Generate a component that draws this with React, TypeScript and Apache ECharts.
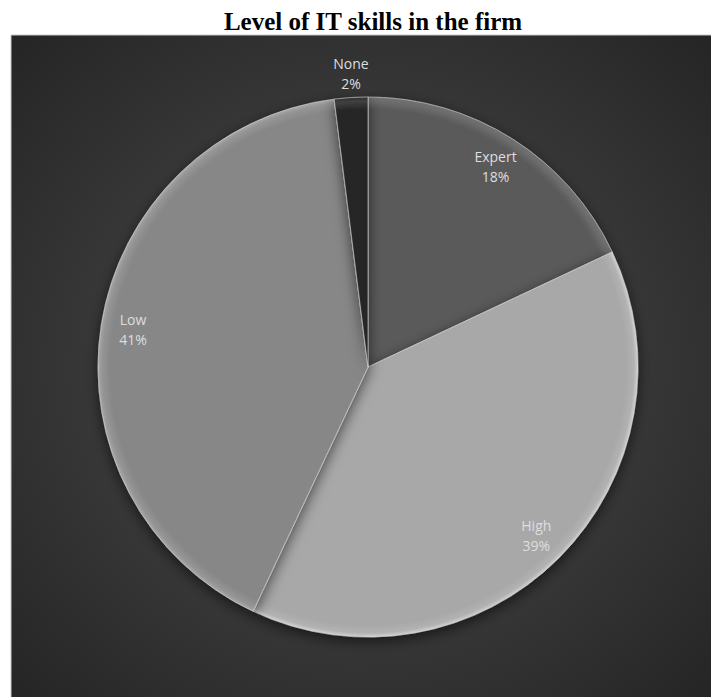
import React, { useEffect, useRef } from "react";
import * as echarts from "echarts";

const titleText = "Level of IT skills in the firm";
const categories = ["Expert", "High", "Low", "None"];
const values = [18, 39, 41, 2];
const colors = ["#5a5a5a", "#a8a8a8", "#878787", "#272727"];

function rim(base: string) {
  return new echarts.graphic.RadialGradient(368, 367, 270, [
    { offset: 0, color: base },
    { offset: 0.955, color: base },
    { offset: 0.985, color: echarts.color.lift(base, 0.12) },
    { offset: 1, color: echarts.color.lift(base, -0.25) },
  ], true);
}

export default function App() {
  const ref = useRef<HTMLDivElement>(null);
  useEffect(() => {
    if (!ref.current) return;
    const chart = echarts.init(ref.current, null, { renderer: "svg" });
    const pieData = categories.map((name, i) => ({
      name,
      value: values[i],
      itemStyle: { color: rim(colors[i]) },
    }));
    const labelData = categories.map((name, i) => ({
      name,
      value: values[i],
      label: i === 3 ? { position: "outside" } : { position: "inside" },
    }));
    chart.setOption({
      animation: false,
      title: {
        text: titleText,
        left: 368,
        top: 4,
        textAlign: "center",
        textStyle: {
          fontFamily: "Liberation Serif",
          fontWeight: "bold",
          fontSize: 25,
          color: "#000",
        },
      },
      graphic: [
        {
          type: "rect",
          z: -10,
          silent: true,
          shape: { x: 11, y: 35, width: 702, height: 664 },
          style: {
            fill: new echarts.graphic.RadialGradient(0.5, 0.5, 0.72, [
              { offset: 0, color: "#4e4e4e" },
              { offset: 1, color: "#242424" },
            ]),
            stroke: "#c8c8c8",
            lineWidth: 1,
          },
        },
      ],
      series: [
        {
          type: "pie",
          center: [368, 367],
          radius: 270,
          startAngle: 90,
          clockwise: true,
          silent: true,
          label: { show: false },
          labelLine: { show: false },
          itemStyle: {
            borderColor: "rgba(225,225,225,0.55)",
            borderWidth: 1,
            shadowBlur: 14,
            shadowColor: "rgba(0,0,0,0.6)",
            shadowOffsetY: 4,
          },
          data: pieData,
        },
        {
          type: "pie",
          center: [368, 367],
          radius: [198, 272],
          startAngle: 90,
          clockwise: true,
          silent: true,
          itemStyle: { color: "rgba(0,0,0,0)", borderWidth: 0 },
          label: {
            show: true,
            formatter: "{b}\n{d}%",
            fontFamily: "Open Sans",
            fontSize: 14,
            lineHeight: 20,
            color: "#dedede",
            distanceToLabelLine: 0,
          },
          labelLine: { show: false, length: 0, length2: 0 },
          labelLayout: (p: any) =>
            p.dataIndex === 3
              ? { align: "center", verticalAlign: "bottom", dy: -2 }
              : {},
          data: labelData,
        },
      ],
    });
    return () => chart.dispose();
  }, []);
  return (
    <div
      ref={ref}
      style={{ position: "absolute", left: 0, top: 0, width: 711, height: 697 }}
    />
  );
}
